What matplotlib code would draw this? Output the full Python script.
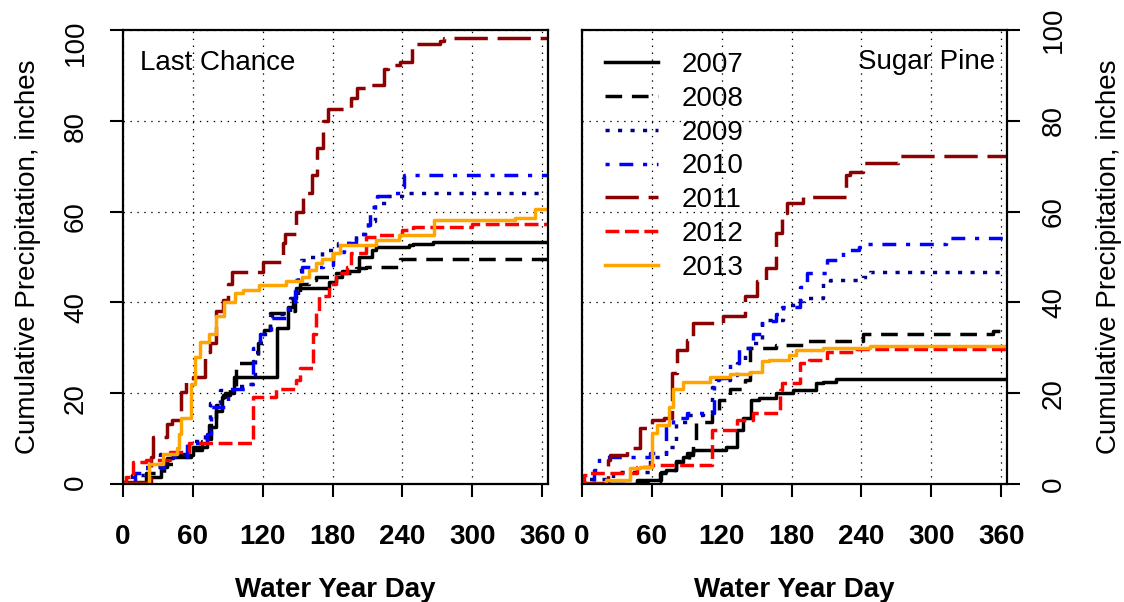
import matplotlib
matplotlib.use("Agg")
import matplotlib.pyplot as plt

plt.rcParams['font.family'] = ['Liberation Sans', 'DejaVu Sans']
plt.rcParams['lines.scale_dashes'] = False

years = ['2007', '2008', '2009', '2010', '2011', '2012', '2013']
colors = ['black', 'black', '#00008b', '#0000ff', '#8b0000', '#ff0000', '#ffa500']
styles = ['-', (0, (12, 7)), (0, (3, 6)), (0, (3, 7, 10, 7)),
          (0, (24, 7)), (0, (10, 4)), '-']

# Last Chance: water year day where each step starts, cumulative inches after it
lc_days_2007 = [0, 22, 33, 38, 43, 60, 72, 76, 80, 85, 88, 95, 132, 142, 146, 149, 177, 183, 188, 203, 214, 217, 246, 249, 266, 365]
lc_vals_2007 = [0, 1.6, 3.8, 5.7, 6.4, 8.2, 10, 12.6, 16, 19.2, 20, 23.5, 34.3, 39, 41, 43.1, 44.5, 45.5, 47, 50, 51.5, 52.3, 52.6, 52.9, 53.4, 53.4]
lc_days_2008 = [0, 20, 35, 45, 58, 68, 74, 80, 86, 92, 97, 112, 116, 121, 126, 140, 148, 152, 160, 166, 183, 200, 209, 238, 365]
lc_vals_2008 = [0, 2.5, 4.5, 6, 7.5, 9.5, 13, 17.5, 19.5, 21, 26.6, 27, 31, 34, 37.6, 38, 41, 44, 45, 45.7, 46.4, 47.5, 47.9, 49.5, 49.5]
lc_days_2009 = [0, 8, 19, 32, 57, 70, 75, 83, 97, 110, 113, 118, 126, 134, 143, 150, 153, 160, 171, 185, 200, 210, 216, 228, 240, 365]
lc_vals_2009 = [0.5, 2, 3.8, 6.5, 9.5, 12, 17.8, 20.7, 21.5, 22, 29, 33, 37, 37.5, 41, 47, 49.3, 50, 51.5, 53, 55, 58, 62, 63.5, 64.2, 64.4]
lc_days_2010 = [0, 10, 18, 35, 55, 72, 76, 90, 105, 112, 118, 127, 142, 148, 154, 172, 180, 190, 200, 208, 212, 218, 232, 238, 241, 365]
lc_vals_2010 = [0.3, 2.5, 3.5, 6, 9, 11, 17, 21, 22, 30, 33, 36.5, 40, 45, 47.9, 48.2, 51, 53, 55, 57, 61, 63.5, 64, 65.5, 68, 68.3]
lc_days_2011 = [0, 24, 26, 38, 42, 50, 54, 60, 70, 75, 80, 86, 90, 94, 120, 137, 139, 149, 155, 162, 167, 172, 176, 196, 201, 212, 224, 228, 238, 248, 252, 272, 276, 365]
lc_vals_2011 = [0.5, 6, 10.4, 13.3, 14, 20.3, 22.9, 23.5, 29, 31, 38, 40.5, 44, 46.8, 48.9, 53, 55, 60, 64, 68, 74, 80, 82.7, 85, 87.2, 87.8, 91.5, 92.3, 93, 96, 97, 97.5, 98.2, 98.4]
lc_days_2012 = [0, 3, 9, 20, 40, 57, 112, 131, 149, 152, 163, 166, 168, 177, 183, 192, 196, 209, 220, 240, 249, 300, 365]
lc_vals_2012 = [0, 1.6, 4.8, 5.3, 7.1, 9.0, 19.2, 21, 23, 25.5, 33, 38, 41.5, 44, 46.4, 47.9, 50.8, 54.5, 54.8, 56, 56.7, 57.3, 57.3]
lc_days_2013 = [0, 22, 34, 46, 48, 50, 58, 62, 66, 74, 80, 87, 96, 103, 117, 140, 154, 160, 166, 171, 180, 186, 217, 237, 267, 337, 354, 365]
lc_vals_2013 = [0, 4.5, 6.5, 8, 11, 14.5, 22, 28, 31.2, 33, 37, 40, 42, 42.7, 43.8, 44.7, 45.7, 47.2, 48.6, 49.5, 50.8, 52.7, 53.8, 54.8, 58.2, 58.7, 60.5, 60.5]

# Sugar Pine
sp_days_2007 = [0, 47, 68, 72, 81, 87, 90, 95, 124, 133, 138, 145, 152, 167, 181, 201, 207, 218, 365]
sp_vals_2007 = [0, 0.9, 2.7, 3.1, 4.9, 6, 6.8, 7.5, 8.2, 11.9, 14.5, 18.5, 18.9, 20, 20.7, 22.2, 22.5, 23.1, 23.1]
sp_days_2008 = [0, 47, 67, 75, 81, 92, 95, 98, 112, 118, 127, 140, 144, 167, 190, 224, 241, 353, 365]
sp_vals_2008 = [0, 0.5, 2.5, 3.1, 5, 6.4, 9, 13.7, 15.5, 18.5, 21, 23, 29.9, 30.6, 31.4, 31.6, 33, 33.6, 33.6]
sp_days_2009 = [0, 5, 27, 58, 72, 81, 90, 104, 112, 115, 127, 133, 140, 146, 155, 173, 184, 190, 207, 213, 241, 247, 365]
sp_vals_2009 = [0, 1.2, 2.7, 6, 8.2, 13.7, 15.2, 15.6, 21.4, 22.9, 24, 26.6, 29.9, 31, 36.1, 39.4, 40.4, 40.9, 44.2, 44.9, 45.7, 46.8, 47]
sp_days_2010 = [0, 10, 15, 58, 72, 78, 90, 113, 118, 127, 135, 147, 155, 167, 172, 187, 193, 210, 224, 238, 241, 313, 365]
sp_vals_2010 = [0.3, 3, 6, 6.8, 13, 14.5, 15.6, 22.2, 23.3, 26.6, 30, 33, 35.8, 37.5, 39, 43.5, 46.4, 49.3, 51.5, 52.2, 52.9, 54.1, 54.1]
sp_days_2011 = [0, 22, 24, 39, 50, 60, 70, 77, 82, 90, 95, 121, 140, 150, 158, 167, 172, 176, 190, 227, 230, 241, 271, 365]
sp_vals_2011 = [0.3, 5.3, 6.4, 7.9, 12.3, 14.1, 14.5, 24.4, 29.5, 31.7, 35.4, 36.9, 41.5, 44.8, 47.5, 55.2, 59.6, 61.8, 63.3, 68.1, 68.8, 70.7, 72.2, 72.2]
sp_days_2012 = [0, 2, 7, 47, 58, 112, 115, 133, 147, 170, 172, 187, 195, 210, 236, 365]
sp_vals_2012 = [0, 2, 2.5, 3.8, 4.2, 11.9, 12, 14, 15.6, 20.7, 22.2, 26.6, 27.3, 29.1, 29.8, 29.8]
sp_days_2013 = [0, 21, 41, 50, 60, 64, 75, 78, 87, 110, 127, 144, 155, 161, 178, 184, 207, 247, 365]
sp_vals_2013 = [0, 0.9, 3.5, 3.8, 11.2, 13, 17, 21, 22.5, 23.5, 24.2, 24.7, 27, 27.3, 28.4, 29.5, 29.9, 30.5, 30.5]

lc_days = [lc_days_2007, lc_days_2008, lc_days_2009, lc_days_2010, lc_days_2011, lc_days_2012, lc_days_2013]
lc_vals = [lc_vals_2007, lc_vals_2008, lc_vals_2009, lc_vals_2010, lc_vals_2011, lc_vals_2012, lc_vals_2013]
sp_days = [sp_days_2007, sp_days_2008, sp_days_2009, sp_days_2010, sp_days_2011, sp_days_2012, sp_days_2013]
sp_vals = [sp_vals_2007, sp_vals_2008, sp_vals_2009, sp_vals_2010, sp_vals_2011, sp_vals_2012, sp_vals_2013]

fig = plt.figure(figsize=(11.24, 6.02), dpi=100)
ax1 = fig.add_axes([123 / 1124, 1 - 484 / 602, 425 / 1124, 454 / 602])
ax2 = fig.add_axes([582 / 1124, 1 - 484 / 602, 425 / 1124, 454 / 602])


def setup(ax):
    ax.set_xlim(0, 365)
    ax.set_ylim(0, 100)
    ax.set_xticks(range(0, 361, 60))
    ax.set_yticks(range(0, 101, 20))
    ax.grid(True, color='black', linestyle=(0, (1, 4)), linewidth=0.9)
    ax.set_axisbelow(True)
    for s in ax.spines.values():
        s.set_linewidth(1.6)
    ax.tick_params(length=9.5, width=1.5, labelsize=20)
    ax.tick_params(axis='x', pad=19)
    for lab in ax.get_xticklabels():
        lab.set_fontweight('bold')
    ax.set_xlabel('Water Year Day', fontsize=20, fontweight='bold', labelpad=20)


for ax, days, vals in [(ax1, lc_days, lc_vals), (ax2, sp_days, sp_vals)]:
    setup(ax)
    for yr, d, v, c, ls in zip(years, days, vals, colors, styles):
        ax.step(d, v, where='post', color=c, linestyle=ls, linewidth=2.5, label=yr)

ax1.tick_params(axis='y', labelrotation=90, pad=15)
ax1.set_ylabel('Cumulative Precipitation, inches', fontsize=20, labelpad=16)
ax2.yaxis.tick_right()
ax2.yaxis.set_label_position('right')
ax2.tick_params(axis='y', labelrotation=90, pad=15)
ax2.set_ylabel('Cumulative Precipitation, inches', fontsize=20, labelpad=21)
for lab in ax2.get_yticklabels():
    lab.set_va('center')

ax1.text(0.04, 0.927, 'Last Chance', transform=ax1.transAxes, fontsize=20, va='center', ha='left')
ax2.text(0.972, 0.93, 'Sugar Pine', transform=ax2.transAxes, fontsize=20, va='center', ha='right')

ax2.legend(loc='upper left', bbox_to_anchor=(605 / 1124, 1 - 52 / 602), bbox_transform=fig.transFigure,
           frameon=False, fontsize=20, handlelength=1.9, handletextpad=0.86, labelspacing=0.28,
           borderpad=0, borderaxespad=0)

fig.savefig('out.png', dpi=100)
